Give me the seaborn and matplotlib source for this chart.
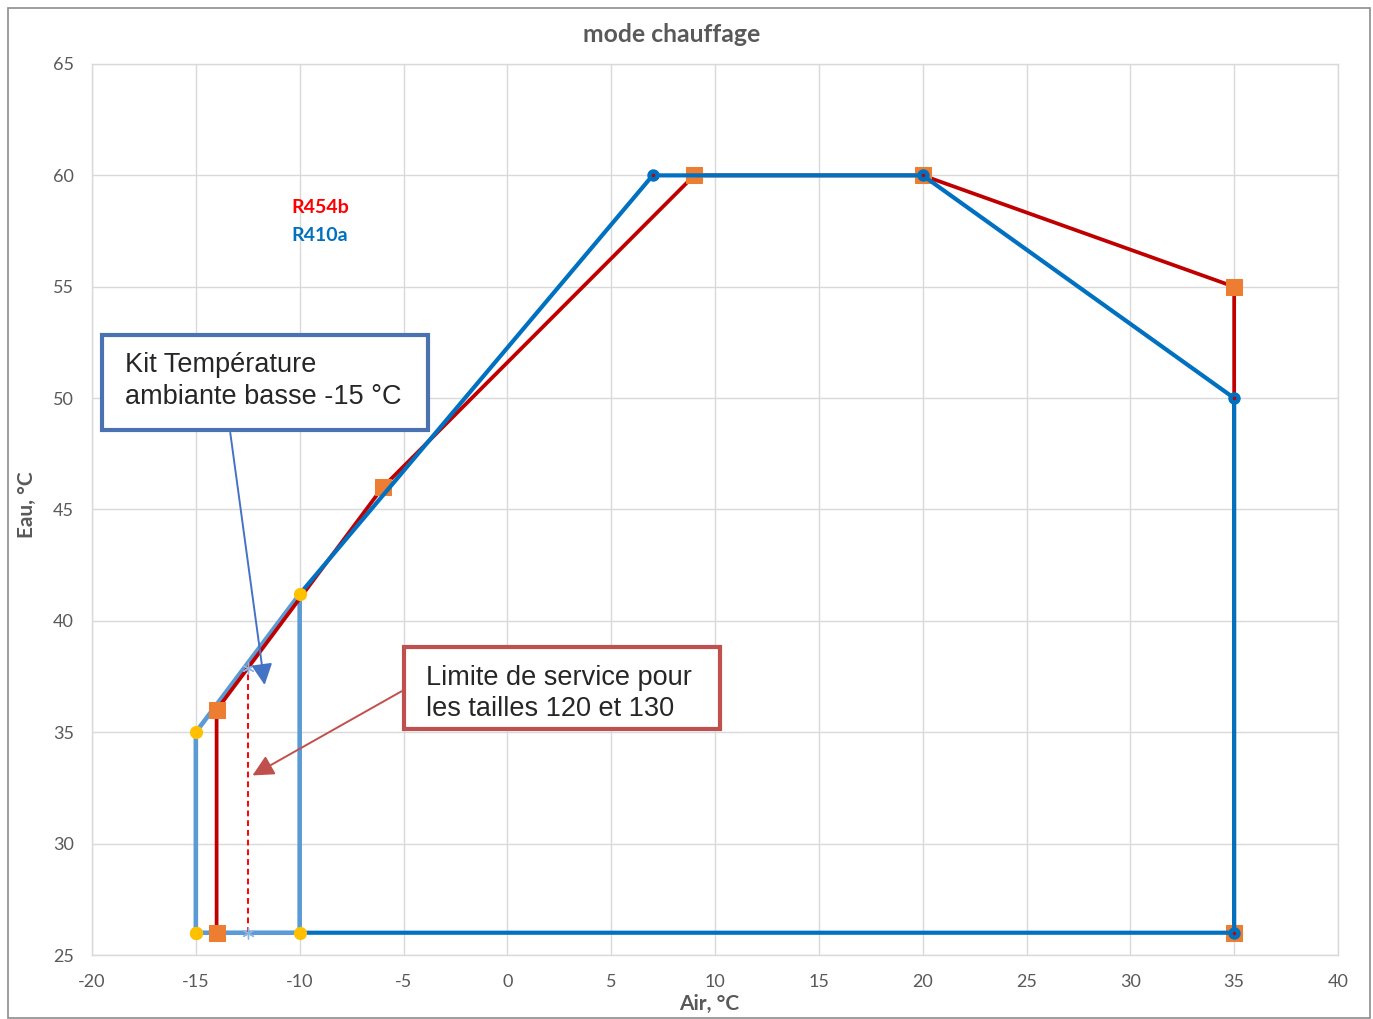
import numpy as np
import pandas as pd
import seaborn as sns
import matplotlib.pyplot as plt
from matplotlib.patches import Rectangle

# data
r454b_x = [-14, -14, -6, 9, 20, 35, 35]
r454b_y = [26, 36, 46, 60, 60, 55, 26]
r410a_x = [-10, 7, 20, 35, 35, -10]
r410a_y = [41.2, 60, 60, 50, 26, 26]
kit_x = [-15, -15, -10, -10, -15]
kit_y = [26, 35, 41.2, 26, 26]
limit_x = [-12.5, -12.5]
limit_y = [26, 37.9]
x_ticks = list(range(-20, 41, 5))
y_ticks = list(range(25, 66, 5))

sns.set_style("white")
plt.rcParams['font.family'] = ['Lato', 'DejaVu Sans']
plt.rcParams['axes.unicode_minus'] = False
gray = '#595959'

fig = plt.figure(figsize=(13.73, 10.19), dpi=100)
ax = fig.add_axes([92/1373, 1-955/1019, (1338-92)/1373, (955-64)/1019])

# kit basse temperature (light blue, yellow points)
sns.lineplot(x=kit_x, y=kit_y, sort=False, estimator=None, color='#5B9BD5',
             linewidth=3.3, ax=ax, zorder=2)
ax.scatter(kit_x, kit_y, s=90, color='#FFC000', zorder=6, linewidths=0)

# R454b
sns.lineplot(x=r454b_x, y=r454b_y, sort=False, estimator=None, color='#C00000',
             linewidth=2.7, marker='s', markersize=11, markerfacecolor='#ED7D31',
             markeredgecolor='#ED7D31', ax=ax, zorder=3)

# R410a
sns.lineplot(x=r410a_x, y=r410a_y, sort=False, estimator=None, color='#0070C0',
             linewidth=3.0, ax=ax, zorder=4)
ax.scatter(r410a_x[1:5], r410a_y[1:5], s=80, color='#0070C0', zorder=5, linewidths=0)
ax.scatter(r410a_x[1:5], r410a_y[1:5], s=6, color='#C00000', zorder=5, linewidths=0)

# limite tailles 120/130
sns.lineplot(x=limit_x, y=limit_y, sort=False, estimator=None, color='#FF0000',
             linewidth=1.4, linestyle=(0, (3, 2)), ax=ax, zorder=4)
ax.scatter(limit_x, limit_y, marker=(6, 2, 0), s=60, color='#8EB4E3', zorder=5, linewidths=1)

ax.set_xlim(-20, 40)
ax.set_ylim(25, 65)
ax.set_xticks(x_ticks)
ax.set_yticks(y_ticks)
ax.grid(True, color='#D9D9D9', linewidth=1)
ax.set_axisbelow(True)
for s in ax.spines.values():
    s.set_color('#D9D9D9')
    s.set_linewidth(1)
ax.tick_params(length=0, labelsize=13, colors=gray)
ax.tick_params(axis='x', pad=14)
ax.tick_params(axis='y', pad=13)

fig.text(672/1373, 1-34/1019, 'mode chauffage', ha='center', va='center',
         fontsize=17.8, fontweight='bold', color=gray)
fig.text(709/1373, 1-1004/1019, 'Air, °C', ha='center', va='center',
         fontsize=15, fontweight='bold', color=gray)
fig.text(27/1373, 1-505/1019, 'Eau, °C', ha='center', va='center', rotation=90,
         fontsize=15, fontweight='bold', color=gray)

ax.text(-10.4, 58.55, 'R454b', color='#FF0000', fontsize=14, fontweight='bold', va='center')
ax.text(-10.4, 57.3, 'R410a', color='#0070C0', fontsize=14, fontweight='bold', va='center')

# annotation boxes
ax.annotate('', xy=(-11.67, 37.0), xytext=(-13.36, 48.57),
            arrowprops=dict(arrowstyle='-|>,head_width=0.4,head_length=0.8', color='#4472C4',
                            lw=1.4, mutation_scale=16), zorder=7)
ax.annotate('', xy=(-12.39, 33.0), xytext=(-4.98, 36.9),
            arrowprops=dict(arrowstyle='-|>,head_width=0.4,head_length=0.8', color='#C0504D',
                            lw=1.4, mutation_scale=16), zorder=7)

box_font = ['Liberation Sans', 'DejaVu Sans']
ax.add_patch(Rectangle((-19.52, 48.57), 15.7, 4.26, facecolor='white', edgecolor='#4A72B0',
                       linewidth=3, zorder=8))
ax.text(-18.4, 50.76, 'Kit Température\nambiante basse -15 °C', fontsize=19.5, va='center',
        ha='left', linespacing=1.27, family=box_font, zorder=9)
ax.add_patch(Rectangle((-4.98, 35.15), 15.2, 3.68, facecolor='white', edgecolor='#C0504D',
                       linewidth=3, zorder=8))
ax.text(-3.9, 36.75, 'Limite de service pour\nles tailles 120 et 130', fontsize=19.5, va='center',
        ha='left', linespacing=1.27, family=box_font, zorder=9)

fig.patches.append(Rectangle((8/1373, 0.001), 1362/1373, 1-9/1019, transform=fig.transFigure,
                             fill=False, edgecolor='#8C8C8C', linewidth=1.2))

fig.savefig('out.png', dpi=100)
